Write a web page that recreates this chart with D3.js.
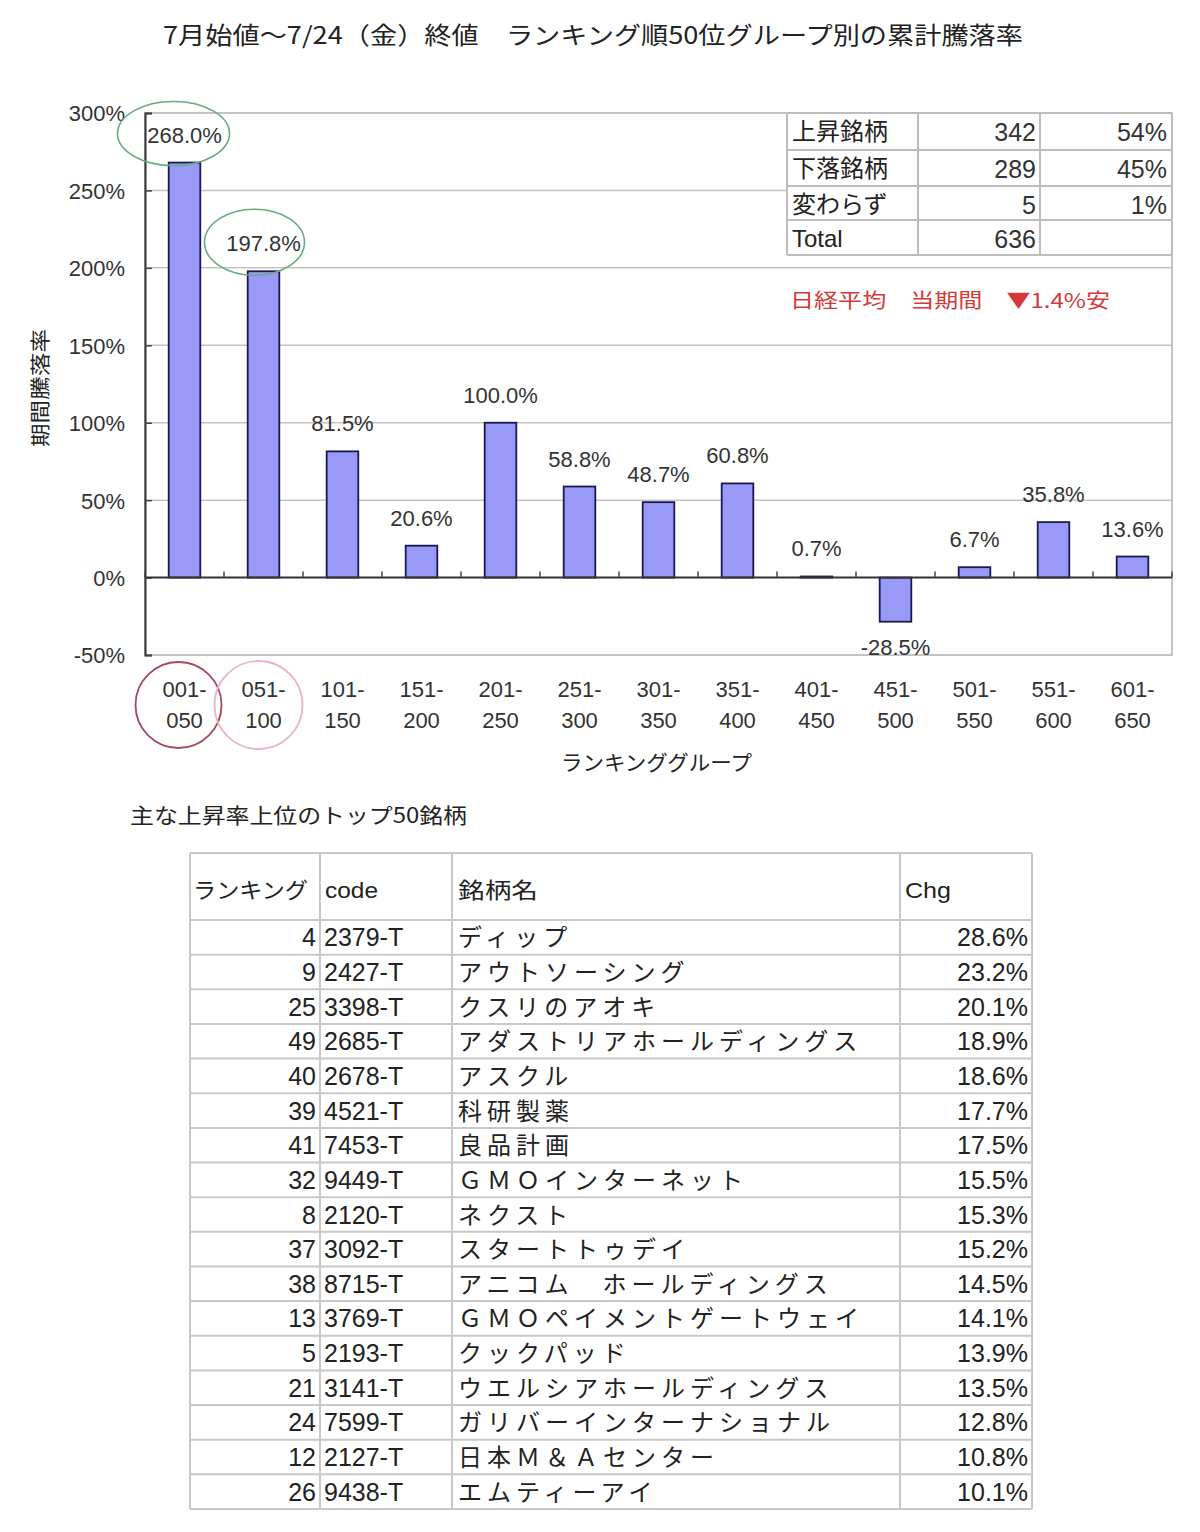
<!DOCTYPE html>
<html><head><meta charset="utf-8">
<script src="https://cdn.jsdelivr.net/npm/d3@7"></script>
<style>body{margin:0;background:#fff}svg{display:block}</style>
</head><body>
<svg id="c" width="1200" height="1532"></svg>
<script>
const categories = [["001-","050"],["051-","100"],["101-","150"],["151-","200"],["201-","250"],["251-","300"],["301-","350"],["351-","400"],["401-","450"],["451-","500"],["501-","550"],["551-","600"],["601-","650"]];
const values = [268.0,197.8,81.5,20.6,100.0,58.8,48.7,60.8,0.7,-28.5,6.7,35.8,13.6];
const yTicks = [-50,0,50,100,150,200,250,300];
const statLabels = ["上昇銘柄","下落銘柄","変わらず","Total"];
const statCounts = ["342","289","5","636"];
const statPcts = ["54%","45%","1%",""];
const ranks = [4,9,25,49,40,39,41,32,8,37,38,13,5,21,24,12,26];
const codes = ["2379-T","2427-T","3398-T","2685-T","2678-T","4521-T","7453-T","9449-T","2120-T","3092-T","8715-T","3769-T","2193-T","3141-T","7599-T","2127-T","9438-T"];
const names = ["ディップ","アウトソーシング","クスリのアオキ","アダストリアホールディングス","アスクル","科研製薬","良品計画","ＧＭＯインターネット","ネクスト","スタートトゥデイ","アニコム　ホールディングス","ＧＭＯペイメントゲートウェイ","クックパッド","ウエルシアホールディングス","ガリバーインターナショナル","日本Ｍ＆Ａセンター","エムティーアイ"];
const chgs = ["28.6%","23.2%","20.1%","18.9%","18.6%","17.7%","17.5%","15.5%","15.3%","15.2%","14.5%","14.1%","13.9%","13.5%","12.8%","10.8%","10.1%"];
const headers = ["ランキング","code","銘柄名","Chg"];

const JP = "'Noto Sans CJK JP', sans-serif";
const LAT = "'Liberation Sans', Arial, sans-serif";
const svg = d3.select("#c");
svg.append("rect").attr("width",1200).attr("height",1532).attr("fill","#fff");

// Title
svg.append("text").attr("x",163).attr("y",44).attr("font-family",JP).attr("font-size",24).attr("fill","#222")
  .attr("textLength",860).attr("lengthAdjust","spacingAndGlyphs")
  .text("7月始値～7/24（金）終値　ランキング順50位グループ別の累計騰落率");

const L=145,R=1172,T=113,B=655;
const x = d3.scaleBand().domain(d3.range(categories.length)).range([L,R]).paddingInner(0.6).paddingOuter(0.3);
const y = d3.scaleLinear().domain([-50,300]).range([B,T]);

// gridlines
svg.append("g").selectAll("line").data(yTicks.filter(t=>t>0&&t<300)).join("line")
  .attr("x1",L).attr("x2",R).attr("y1",d=>y(d)).attr("y2",d=>y(d)).attr("stroke","#c4c4c4").attr("stroke-width",1.5);
// plot border
svg.append("rect").attr("x",L).attr("y",T).attr("width",R-L).attr("height",B-T).attr("fill","none").attr("stroke","#b0b0b0").attr("stroke-width",1.5);

// y axis
const yAxis = d3.axisLeft(y).tickValues(yTicks).tickSize(-7).tickPadding(20).tickFormat(d=>d+"%");
const gy = svg.append("g").attr("transform",`translate(${L},0)`).call(yAxis);
gy.select(".domain").attr("stroke","#333").attr("stroke-width",2);
gy.selectAll(".tick line").attr("stroke","#444").attr("stroke-width",1.5);
gy.selectAll(".tick text").attr("font-family",LAT).attr("font-size",22).attr("fill","#333").attr("dy","0.36em");

// y label
svg.append("text").attr("transform","translate(48,388) rotate(-90)").attr("text-anchor","middle")
  .attr("font-family",JP).attr("font-size",20).attr("fill","#222").attr("textLength",118).attr("lengthAdjust","spacingAndGlyphs").text("期間騰落率");

// bars
svg.append("g").selectAll("rect").data(values).join("rect")
  .attr("x",(d,i)=>x(i)).attr("width",x.bandwidth())
  .attr("y",d=>y(Math.max(0,d))).attr("height",d=>Math.max(1,Math.abs(y(d)-y(0))))
  .attr("fill","#9999f8").attr("stroke","#1a1a50").attr("stroke-width",1.8);

// zero axis with ticks
const gx = svg.append("g").attr("transform",`translate(0,${y(0)})`);
gx.append("line").attr("x1",L).attr("x2",R).attr("stroke","#333").attr("stroke-width",2);
gx.selectAll("line.t").data(d3.range(categories.length+1)).join("line").attr("class","t")
  .attr("x1",i=>L+i*x.step()).attr("x2",i=>L+i*x.step()).attr("y1",0).attr("y2",-6).attr("stroke","#444").attr("stroke-width",1.5);

// data labels
svg.append("g").selectAll("text").data(values).join("text")
  .attr("x",(d,i)=>x(i)+x.bandwidth()/2).attr("y",d=>d>=0? y(d)-20 : y(d)+33)
  .attr("text-anchor","middle").attr("font-family",LAT).attr("font-size",22).attr("fill","#333")
  .text(d=>d.toFixed(1)+"%");

// green ellipses around top two labels
const ell = [{i:0,rx:56,ry:32,dx:-11},{i:1,rx:50,ry:33,dx:-9}];
svg.append("g").selectAll("ellipse").data(ell).join("ellipse")
  .attr("cx",d=>x(d.i)+x.bandwidth()/2+d.dx).attr("cy",d=>y(values[d.i])-29)
  .attr("rx",d=>d.rx).attr("ry",d=>d.ry).attr("fill","none").attr("stroke","#6aaa80").attr("stroke-width",1.6);

// x labels
const xl = svg.append("g").selectAll("text").data(categories).join("text")
  .attr("text-anchor","middle").attr("font-family",LAT).attr("font-size",22).attr("fill","#333");
xl.append("tspan").attr("x",(d,i)=>x(i)+x.bandwidth()/2).attr("y",697).text(d=>d[0]);
xl.append("tspan").attr("x",(d,i)=>x(i)+x.bandwidth()/2).attr("y",728).text(d=>d[1]);

// red circles
const circ = [{i:0,r:43,dx:-6,c:"#a84858"},{i:1,r:44,dx:-5,c:"#e8b8c8"}];
svg.append("g").selectAll("circle").data(circ).join("circle")
  .attr("cx",d=>x(d.i)+x.bandwidth()/2+d.dx).attr("cy",705).attr("r",d=>d.r)
  .attr("fill","none").attr("stroke",d=>d.c).attr("stroke-width",1.8);

svg.append("text").attr("x",561).attr("y",770).attr("font-family",JP).attr("font-size",21).attr("fill","#222")
  .attr("textLength",191).attr("lengthAdjust","spacingAndGlyphs").text("ランキンググループ");

// stats table
const sx=[787,918,1040,1172], sy=[113,150,186,220,255];
const st = svg.append("g");
st.append("rect").attr("x",sx[0]).attr("y",sy[0]).attr("width",sx[3]-sx[0]).attr("height",sy[4]-sy[0]).attr("fill","#fff");
st.selectAll("line.h").data(sy).join("line").attr("class","h").attr("x1",sx[0]).attr("x2",sx[3]).attr("y1",d=>d).attr("y2",d=>d).attr("stroke","#bdbdbd").attr("stroke-width",2);
st.selectAll("line.v").data(sx).join("line").attr("class","v").attr("y1",sy[0]).attr("y2",sy[4]).attr("x1",d=>d).attr("x2",d=>d).attr("stroke","#bdbdbd").attr("stroke-width",2);
st.selectAll("text.a").data(statLabels).join("text").attr("class","a").attr("x",sx[0]+5).attr("y",(d,i)=>sy[i]+27)
  .attr("font-family",(d)=>d==="Total"?LAT:JP).attr("font-size",24).attr("fill","#222").text(d=>d);
st.selectAll("text.b").data(statCounts).join("text").attr("class","b").attr("x",sx[2]-4).attr("y",(d,i)=>sy[i]+28)
  .attr("text-anchor","end").attr("font-family",LAT).attr("font-size",25).attr("fill","#333").text(d=>d);
st.selectAll("text.c").data(statPcts).join("text").attr("class","c").attr("x",sx[3]-5).attr("y",(d,i)=>sy[i]+28)
  .attr("text-anchor","end").attr("font-family",LAT).attr("font-size",25).attr("fill","#333").text(d=>d);
svg.append("text").attr("x",790).attr("y",308).attr("font-family",JP).attr("font-size",20).attr("fill","#d43a3a")
  .attr("textLength",320).attr("lengthAdjust","spacingAndGlyphs").text("日経平均　当期間　▼1.4%安");

// subtitle
svg.append("text").attr("x",130).attr("y",823).attr("font-family",JP).attr("font-size",21).attr("fill","#222")
  .attr("textLength",337).attr("lengthAdjust","spacingAndGlyphs").text("主な上昇率上位のトップ50銘柄");

// big table
const tx=[190,320,452,900,1032];
const hTop=853, hBot=920, rh=(1509-920)/ranks.length;
const rowY = d3.range(ranks.length+1).map(i=>hBot+i*rh);
const tb = svg.append("g");
tb.selectAll("line.h").data([hTop].concat(rowY)).join("line").attr("class","h")
  .attr("x1",tx[0]).attr("x2",tx[4]).attr("y1",d=>d).attr("y2",d=>d).attr("stroke","#c8c8c8").attr("stroke-width",2);
tb.selectAll("line.v").data(tx).join("line").attr("class","v")
  .attr("x1",d=>d).attr("x2",d=>d).attr("y1",hTop).attr("y2",rowY[rowY.length-1]).attr("stroke","#c8c8c8").attr("stroke-width",2);
const hdr = [{t:headers[0],x:193,w:115,f:JP},{t:headers[1],x:325,w:53,f:LAT},{t:headers[2],x:458,w:80,f:JP},{t:headers[3],x:905,w:46,f:LAT}];
tb.selectAll("text.hd").data(hdr).join("text").attr("class","hd").attr("x",d=>d.x).attr("y",898)
  .attr("font-family",d=>d.f).attr("font-size",22).attr("fill","#222").attr("textLength",d=>d.w).attr("lengthAdjust","spacingAndGlyphs").text(d=>d.t);
tb.selectAll("text.rk").data(ranks).join("text").attr("class","rk").attr("x",316).attr("y",(d,i)=>rowY[i]+rh/2+9)
  .attr("text-anchor","end").attr("font-family",LAT).attr("font-size",25).attr("fill","#222").text(d=>d);
tb.selectAll("text.cd").data(codes).join("text").attr("class","cd").attr("x",324).attr("y",(d,i)=>rowY[i]+rh/2+9)
  .attr("font-family",LAT).attr("font-size",25).attr("fill","#222").text(d=>d);
tb.selectAll("text.nm").data(names).join("text").attr("class","nm").attr("x",458).attr("y",(d,i)=>rowY[i]+rh/2+9)
  .attr("font-family",JP).attr("font-size",24).attr("letter-spacing",5).attr("fill","#222").text(d=>d);
tb.selectAll("text.cg").data(chgs).join("text").attr("class","cg").attr("x",1028).attr("y",(d,i)=>rowY[i]+rh/2+9)
  .attr("text-anchor","end").attr("font-family",LAT).attr("font-size",25).attr("fill","#222").text(d=>d);
</script>
</body></html>
